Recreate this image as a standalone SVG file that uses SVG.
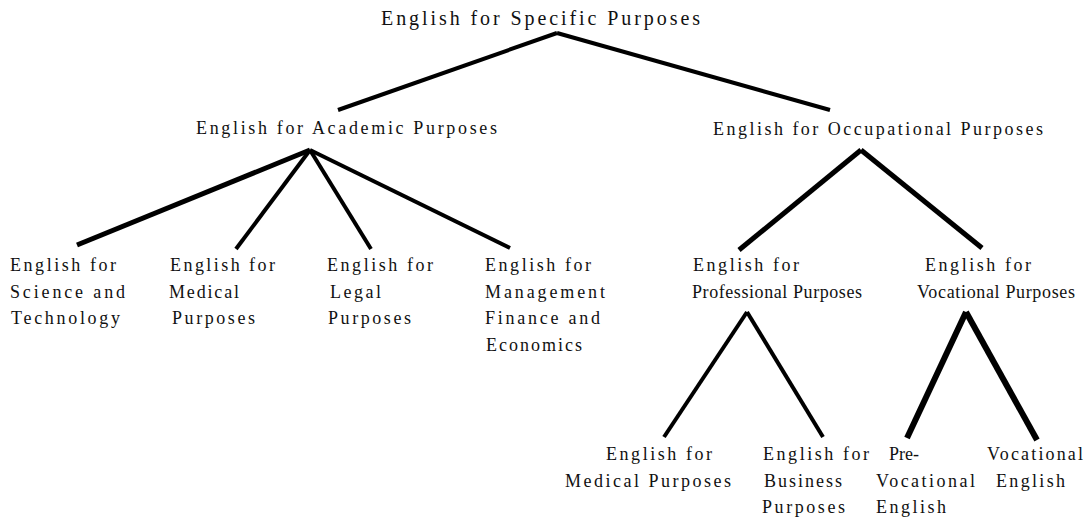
<svg xmlns="http://www.w3.org/2000/svg" width="1087" height="520" viewBox="0 0 1087 520">
<style>
text{font-family:"Liberation Serif","Times New Roman",serif;font-size:18px;fill:#111;}
.t{font-size:20px;}
.c line{stroke:#000;stroke-linecap:butt;}
</style>
<rect width="1087" height="520" fill="#fff"/>
<g id="connectors" class="c">
<line x1="557" y1="33" x2="338" y2="110" stroke-width="4"/>
<line x1="557" y1="33" x2="830" y2="110" stroke-width="4"/>
<line x1="310" y1="150" x2="77" y2="245" stroke-width="5"/>
<line x1="310" y1="150" x2="236" y2="249" stroke-width="4"/>
<line x1="310" y1="150" x2="371" y2="249" stroke-width="4"/>
<line x1="310" y1="150" x2="510" y2="248" stroke-width="4"/>
<line x1="861" y1="150" x2="739" y2="250" stroke-width="5"/>
<line x1="861" y1="150" x2="982" y2="248" stroke-width="5"/>
<line x1="747" y1="312" x2="664" y2="437" stroke-width="4"/>
<line x1="747" y1="312" x2="823" y2="437" stroke-width="4"/>
<line x1="966" y1="312" x2="907" y2="438" stroke-width="6"/>
<line x1="966" y1="312" x2="1037" y2="440" stroke-width="6"/>
</g>
<g id="esp"><text class="t" x="381" y="25" textLength="319" lengthAdjust="spacing">English for Specific Purposes</text></g>
<g id="eap"><text x="196" y="134" textLength="301" lengthAdjust="spacing">English for Academic Purposes</text></g>
<g id="eop"><text x="713" y="135" textLength="330" lengthAdjust="spacing">English for Occupational Purposes</text></g>
<g id="est">
<text x="10" y="271" textLength="106" lengthAdjust="spacing">English for</text>
<text x="10" y="297.5" textLength="115" lengthAdjust="spacing">Science and</text>
<text x="11" y="324" textLength="109" lengthAdjust="spacing">Technology</text>
</g>
<g id="emp-a">
<text x="170" y="271" textLength="105" lengthAdjust="spacing">English for</text>
<text x="169" y="297.5" textLength="70" lengthAdjust="spacing">Medical</text>
<text x="172" y="324" textLength="83" lengthAdjust="spacing">Purposes</text>
</g>
<g id="elp">
<text x="327" y="271" textLength="106" lengthAdjust="spacing">English for</text>
<text x="330" y="297.5" textLength="51" lengthAdjust="spacing">Legal</text>
<text x="328" y="324" textLength="83" lengthAdjust="spacing">Purposes</text>
</g>
<g id="emfe">
<text x="485" y="271" textLength="106" lengthAdjust="spacing">English for</text>
<text x="485" y="297.5" textLength="120" lengthAdjust="spacing">Management</text>
<text x="485" y="324" textLength="115" lengthAdjust="spacing">Finance and</text>
<text x="486" y="350.5" textLength="96" lengthAdjust="spacing">Economics</text>
</g>
<g id="eprp">
<text x="693" y="271" textLength="106" lengthAdjust="spacing">English for</text>
<text x="692" y="297.5" textLength="170" lengthAdjust="spacing">Professional Purposes</text>
</g>
<g id="evp">
<text x="925" y="271" textLength="106" lengthAdjust="spacing">English for</text>
<text x="917" y="297.5" textLength="158" lengthAdjust="spacing">Vocational Purposes</text>
</g>
<g id="emp-b">
<text x="606" y="460" textLength="106" lengthAdjust="spacing">English for</text>
<text x="565" y="486.5" textLength="166" lengthAdjust="spacing">Medical Purposes</text>
</g>
<g id="ebp">
<text x="763" y="460" textLength="106" lengthAdjust="spacing">English for</text>
<text x="764" y="486.5" textLength="78" lengthAdjust="spacing">Business</text>
<text x="762" y="513" textLength="83" lengthAdjust="spacing">Purposes</text>
</g>
<g id="pve">
<text x="889" y="460">Pre-</text>
<text x="876" y="486.5" textLength="99" lengthAdjust="spacing">Vocational</text>
<text x="876" y="513" textLength="70" lengthAdjust="spacing">English</text>
</g>
<g id="ve">
<text x="987" y="460" textLength="96" lengthAdjust="spacing">Vocational</text>
<text x="996" y="486.5" textLength="69" lengthAdjust="spacing">English</text>
</g>
</svg>
